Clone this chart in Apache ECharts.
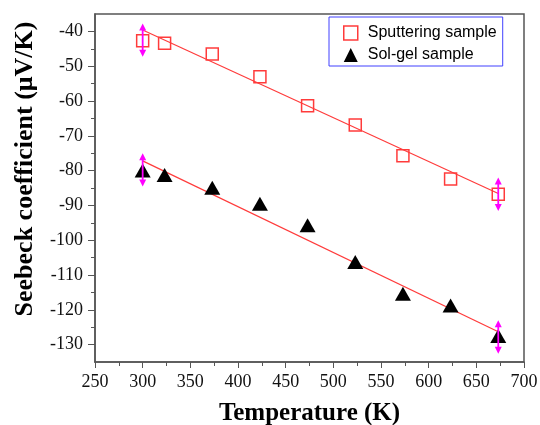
<!DOCTYPE html>
<html>
<head>
<meta charset="utf-8">
<script src="https://cdn.jsdelivr.net/npm/echarts@6/dist/echarts.min.js"></script>
<style>
html,body{margin:0;padding:0;background:#fff;}
#chart{width:540px;height:425px;}
</style>
</head>
<body>
<div id="chart"></div>
<script>
// ---- data ----
var temps = [300, 323, 373, 423, 473, 523, 573, 623, 673];
var sputtering = [-42.7, -43.4, -46.5, -53.0, -61.4, -66.9, -75.7, -82.4, -86.8];
var solgel = [-80.0, -81.3, -84.9, -89.5, -95.7, -106.3, -115.4, -118.8, -127.5];
// linear fit end points
var fitTemps = [300, 673];
var fitSputtering = [-39.6, -86.6];
var fitSolgel = [-77.2, -126.3];
// error bars (magenta double arrows) at first and last temperature
var errTemps = [300, 673];
var errSputtering = [-42.5, -86.8];
var errSolgel = [-79.8, -127.8];
var errHalf = [4.8, 4.8];
// tick labels
var xTicks = [250, 300, 350, 400, 450, 500, 550, 600, 650, 700];
var yTicks = [-130, -120, -110, -100, -90, -80, -70, -60, -50, -40];
var yMinorTicks = [-125, -115, -105, -95, -85, -75, -65, -55, -45];
var names = ['Sputtering sample', 'Sol-gel sample'];

function zip(a, b) { return a.map(function (v, i) { return [v, b[i]]; }); }
function errData(ys) { return errTemps.map(function (t, i) { return [t, ys[i], errHalf[i]]; }); }

function renderErr(params, api) {
  var x = api.value(0), y = api.value(1), e = api.value(2);
  var top = api.coord([x, y + e]);
  var bot = api.coord([x, y - e]);
  var ah = 7, aw = 3.5;
  return {
    type: 'group',
    children: [
      { type: 'line', shape: { x1: top[0], y1: top[1] + ah - 1, x2: bot[0], y2: bot[1] - ah + 1 }, style: { stroke: '#ff00ff', lineWidth: 1.8 } },
      { type: 'polygon', shape: { points: [[top[0], top[1]], [top[0] - aw, top[1] + ah], [top[0] + aw, top[1] + ah]] }, style: { fill: '#ff00ff' } },
      { type: 'polygon', shape: { points: [[bot[0], bot[1]], [bot[0] - aw, bot[1] - ah], [bot[0] + aw, bot[1] - ah]] }, style: { fill: '#ff00ff' } }
    ]
  };
}

var serif = "'Liberation Serif', 'Times New Roman', serif";
var sans = "'Liberation Sans', Arial, sans-serif";

var chart = echarts.init(document.getElementById('chart'), null, { renderer: 'canvas' });
chart.setOption({
  backgroundColor: '#fff',
  animation: false,
  grid: { left: 95, right: 16, top: 14, bottom: 63, containLabel: false, outerBoundsMode: 'none',
    show: true, borderColor: '#555', borderWidth: 1.5, backgroundColor: 'transparent' },
  legend: {
    data: [
      { name: names[0], icon: 'rect', itemStyle: { color: 'transparent', borderColor: '#ff3b3b', borderWidth: 1.5 } },
      { name: names[1], icon: 'triangle', itemStyle: { color: '#000' } }
    ],
    orient: 'vertical', left: 329, top: 17,
    padding: [8, 6, 3, 14], itemGap: 6, itemWidth: 14, itemHeight: 14,
    borderColor: '#4040ff', borderWidth: 1,
    textStyle: { fontFamily: sans, fontSize: 16, color: '#000', padding: [0, 0, 0, 5] }
  },
  xAxis: {
    type: 'value', min: 250, max: 700, interval: 50,
    name: 'Temperature (K)', nameLocation: 'middle', nameGap: 39,
    nameTextStyle: { fontFamily: serif, fontSize: 25, fontWeight: 'bold', color: '#000' },
    axisLine: { show: true, onZero: false, lineStyle: { color: '#555', width: 1.5 } },
    axisTick: { show: true, inside: false, length: 6, lineStyle: { color: '#555' } },
    minorTick: { show: true, splitNumber: 2, length: 4, lineStyle: { color: '#555' } },
    axisLabel: { fontFamily: serif, fontSize: 18, color: '#111', margin: 11 },
    splitLine: { show: false }
  },
  yAxis: [{
    type: 'value', min: -135, max: -35, interval: 5,
    axisLine: { show: true, onZero: false, lineStyle: { color: '#555', width: 1.5 } },
    axisTick: { show: true, inside: false, length: 7, customValues: yTicks, lineStyle: { color: '#555' } },
    axisLabel: { fontFamily: serif, fontSize: 18, color: '#111', margin: 12, customValues: yTicks },
    splitLine: { show: false }
  }, {
    type: 'value', min: -135, max: -35, interval: 5, position: 'left',
    axisLine: { show: false },
    axisTick: { show: true, inside: false, length: 4, customValues: yMinorTicks, lineStyle: { color: '#555' } },
    axisLabel: { show: false },
    splitLine: { show: false }
  }],
  graphic: [{
    type: 'text', x: 25, y: 169, rotation: Math.PI / 2,
    style: { text: 'Seebeck coefficient (μV/K)', font: 'bold 26px ' + serif, fill: '#000', textAlign: 'center', textVerticalAlign: 'middle' }
  }],
  series: [
    { type: 'line', data: zip(fitTemps, fitSputtering), showSymbol: false, symbol: 'none', lineStyle: { color: '#ff3b3b', width: 1.2 }, silent: true, z: 1 },
    { type: 'line', data: zip(fitTemps, fitSolgel), showSymbol: false, symbol: 'none', lineStyle: { color: '#ff3b3b', width: 1.2 }, silent: true, z: 1 },
    { name: names[0], type: 'scatter', data: zip(temps, sputtering), symbol: 'rect', symbolSize: 12,
      itemStyle: { color: 'transparent', borderColor: '#ff3b3b', borderWidth: 1.5, opacity: 1 }, z: 2 },
    { name: names[1], type: 'scatter', data: zip(temps, solgel), symbol: 'triangle', symbolSize: [16, 14],
      itemStyle: { color: '#000', opacity: 1 }, z: 2 },
    { type: 'custom', data: errData(errSputtering), renderItem: renderErr, z: 3, silent: true },
    { type: 'custom', data: errData(errSolgel), renderItem: renderErr, z: 3, silent: true }
  ]
});
</script>
</body>
</html>
